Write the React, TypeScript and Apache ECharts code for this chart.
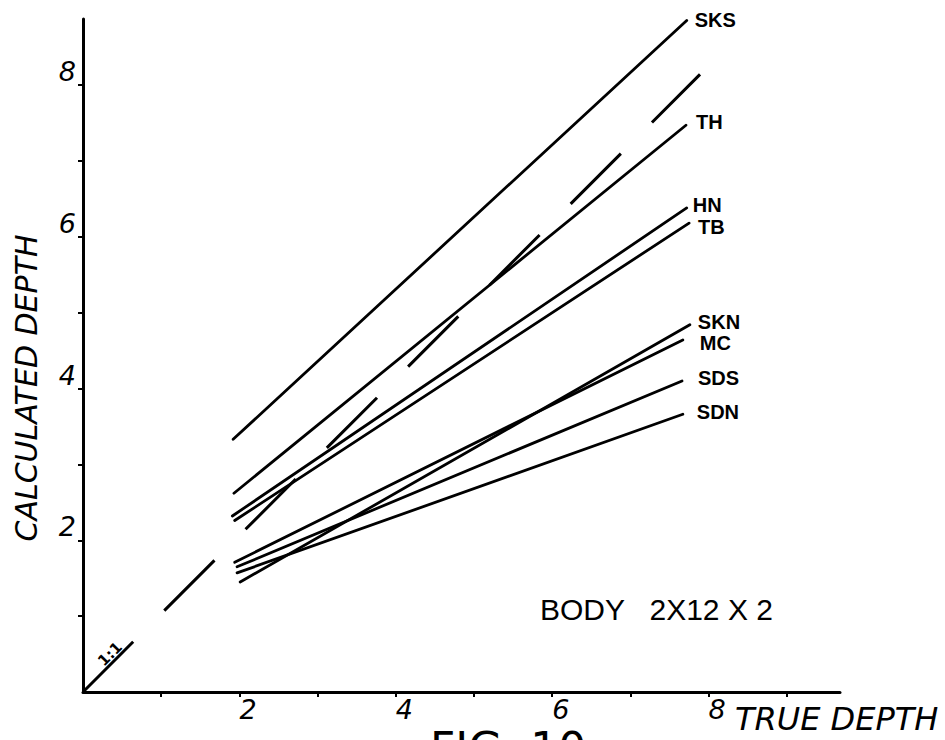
import React, { useEffect, useRef } from "react";
import * as echarts from "echarts";

// ---- data (true depth -> calculated depth) ----
const seriesNames = ["SKS", "TH", "HN", "TB", "SKN", "MC", "SDS", "SDN"];
const startTrue = [1.92, 1.93, 1.91, 1.94, 2.01, 1.94, 1.97, 1.97];
const startCalc = [3.33, 2.62, 2.32, 2.26, 1.45, 1.71, 1.65, 1.57];
const endTrue = [7.72, 7.71, 7.72, 7.75, 7.76, 7.67, 7.66, 7.67];
const endCalc = [8.85, 7.47, 6.38, 6.18, 4.84, 4.64, 4.1, 3.66];

const oneToOneTrue = [0, 7.89];
const oneToOneCalc = [0, 8.14];

const xTickValues = [1, 2, 3, 4, 5, 6, 7, 8, 9];
const xLabelValues = [2, 4, 6, 8];
const yTickValues = [1, 2, 3, 4, 5, 6, 7, 8];
const yLabelValues = [2, 4, 6, 8];

// label placement (style only)
const labelOffsets: Record<string, number[]> = {
  SKS: [8, -1],
  TH: [10, -3],
  HN: [6, -3],
  TB: [9, 4],
  SKN: [8, -3],
  MC: [17, 3],
  SDS: [16, -3],
  SDN: [14, -2],
};

export default function App() {
  const ref = useRef<HTMLDivElement>(null);

  useEffect(() => {
    if (!ref.current) return;
    const chart = echarts.init(ref.current, null, { renderer: "svg" });

    const lineSeries = seriesNames.map((name, i) => ({
      type: "line",
      name,
      data: [
        [startTrue[i], startCalc[i]],
        [endTrue[i], endCalc[i]],
      ],
      showSymbol: false,
      symbol: "none",
      clip: false,
      lineStyle: { color: "#000", width: 2.8, cap: "round" },
      endLabel: {
        show: true,
        formatter: name,
        distance: 0,
        offset: labelOffsets[name],
        color: "#000",
        fontFamily: "Liberation Sans, DejaVu Sans, sans-serif",
        fontWeight: "bold",
        fontSize: 20,
      },
      z: 3,
    }));

    const oneToOne = {
      type: "line",
      name: "1:1",
      data: oneToOneTrue.map((x, i) => [x, oneToOneCalc[i]]),
      showSymbol: false,
      symbol: "none",
      clip: false,
      lineStyle: { color: "#000", width: 3, type: [71, 44] },
      z: 2,
    };

    const tickFont = {
      color: "#000",
      fontFamily: "DejaVu Sans, sans-serif",
      fontStyle: "italic",
      fontSize: 27,
    };

    chart.setOption({
      animation: false,
      backgroundColor: "#fff",
      grid: {
        left: 83,
        top: 19,
        right: 105,
        bottom: 48,
        containLabel: false,
        outerBoundsMode: "none",
      },
      xAxis: {
        type: "value",
        min: 0,
        max: 9.68,
        interval: 1,
        splitLine: { show: false },
        axisLine: { show: true, lineStyle: { color: "#000", width: 3 } },
        axisTick: {
          show: true,
          length: 5,
          customValues: xTickValues,
          lineStyle: { color: "#000", width: 2 },
        },
        axisLabel: {
          ...tickFont,
          customValues: xLabelValues,
          align: "left",
          margin: 4,
        },
      },
      yAxis: {
        type: "value",
        min: 0,
        max: 8.87,
        interval: 1,
        splitLine: { show: false },
        axisLine: { show: true, lineStyle: { color: "#000", width: 3 } },
        axisTick: {
          show: true,
          length: 5,
          customValues: yTickValues,
          lineStyle: { color: "#000", width: 2 },
        },
        axisLabel: {
          ...tickFont,
          customValues: yLabelValues,
          align: "right",
          verticalAlign: "bottom",
          margin: 7,
        },
      },
      series: [oneToOne, ...lineSeries],
      graphic: [
        {
          type: "text",
          x: 26,
          y: 388,
          rotation: Math.PI / 2,
          style: {
            text: "CALCULATED DEPTH",
            fill: "#000",
            font: "italic 30px 'DejaVu Sans', sans-serif",
            align: "center",
            verticalAlign: "middle",
          },
        },
        {
          type: "text",
          x: 735,
          y: 719,
          style: {
            text: "TRUE DEPTH",
            fill: "#000",
            font: "italic 32px 'DejaVu Sans', sans-serif",
            align: "left",
            verticalAlign: "middle",
          },
        },
        {
          type: "text",
          x: 540,
          y: 609,
          style: {
            text: "BODY   2X12 X 2",
            fill: "#000",
            font: "30px 'Liberation Sans', sans-serif",
            align: "left",
            verticalAlign: "middle",
          },
        },
        {
          type: "text",
          x: 110,
          y: 654,
          rotation: Math.PI / 4,
          style: {
            text: "1:1",
            fill: "#000",
            font: "bold 15px 'DejaVu Sans', sans-serif",
            align: "center",
            verticalAlign: "middle",
          },
        },
        {
          type: "text",
          x: 430,
          y: 726,
          style: {
            text: "FIG. 10",
            fill: "#000",
            font: "44px 'DejaVu Sans', sans-serif",
            align: "left",
            verticalAlign: "top",
          },
        },
      ],
    });

    return () => chart.dispose();
  }, []);

  return (
    <div
      ref={ref}
      style={{
        position: "fixed",
        left: 0,
        top: 0,
        width: 945,
        height: 740,
        background: "#fff",
      }}
    />
  );
}
